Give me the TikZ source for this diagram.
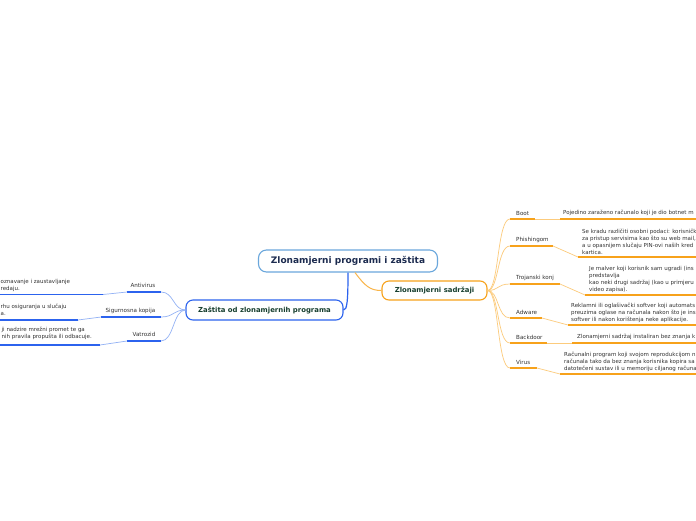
\documentclass[tikz,border=0pt]{standalone}
\usepackage{fontspec}
\setmainfont{DejaVu Sans}
\usetikzlibrary{calc}
\definecolor{ob}{HTML}{F7A21B}
\definecolor{ol}{HTML}{FCCB7C}
\definecolor{bb}{HTML}{2C63EE}
\definecolor{bl}{HTML}{93B2F5}
\definecolor{rootb}{HTML}{6AA7DC}
\definecolor{navy}{HTML}{1C2B4F}
\definecolor{dg}{HTML}{163E2E}
\definecolor{tx}{HTML}{333333}
\tikzset{
  mainbox/.style={rounded corners=7pt, line width=1.1pt, fill=white, font=\bfseries\fontsize{6.9}{8}\selectfont, text=dg, inner sep=0pt},
  lbl/.style={inner sep=0pt, font=\fontsize{5.6}{7}\selectfont, text=tx},
  txt/.style={inner sep=0pt, font=\fontsize{5.5}{7}\selectfont, text=tx, align=left},
  othick/.style={draw=ob, line width=1.7pt},
  othin/.style={draw=ol, line width=0.7pt},
  bthick/.style={draw=bb, line width=1.7pt},
  bthin/.style={draw=bl, line width=0.7pt},
}
\begin{document}
\begin{tikzpicture}[x=1pt,y=-1pt]
\useasboundingbox[fill=white] (0,0) rectangle (696,520);

% central node
\node[draw=rootb, rounded corners=8pt, line width=1.1pt, fill=white, minimum width=179pt, minimum height=22pt, inner sep=0pt,
      font=\bfseries\fontsize{9}{10}\selectfont, text=navy] (root) at (348,261) {Zlonamjerni programi i zaštita};
\node[mainbox, draw=ob, minimum width=105pt, minimum height=19pt] (sad) at (434.5,290.5) {Zlonamjerni sadržaji};
\node[mainbox, draw=bb, minimum width=157pt, minimum height=20pt] (zas) at (264.5,310) {Zaštita od zlonamjernih programa};

\draw[draw=ob!80, line width=1pt] ($(root.south)+(7,0)$) .. controls (365,286) and (370,290.5) .. (sad.west);
\draw[draw=bb, line width=1.2pt] (root.south) .. controls (348,302) and (347,310) .. (zas.east);

% ---------- right side ----------
% Boot
\coordinate (bootA) at (510,219); \coordinate (bootB) at (535,219);
\coordinate (bootC) at (560,219); \coordinate (bootD) at (696,219);
\node[lbl, anchor=west] (boot) at (516,213) {Boot};
\node[txt, anchor=west] (bootT) at (563,213) {Pojedino zaraženo računalo koji je dio botnet m};
% Phishing
\coordinate (phA) at (510,246); \coordinate (phB) at (553,246);
\coordinate (phC) at (578,257); \coordinate (phD) at (696,257);
\node[lbl, anchor=west] (ph) at (516,240) {Phishingom};
\node[txt, anchor=west] (phT) at (582,241.5) {Se kradu različiti osobni podaci: korisničk\\za pristup servisima kao što su web mail,\\a u opasnijem slučaju PIN-ovi naših kred\\kartica.};
% Trojan
\coordinate (trA) at (510,284); \coordinate (trB) at (560,284);
\coordinate (trC) at (585,295); \coordinate (trD) at (696,295);
\node[lbl, anchor=west] (tr) at (516,278) {Trojanski konj};
\node[txt, anchor=west] (trT) at (589,279) {Je malver koji korisnik sam ugradi (ins\\predstavlja\\kao neki drugi sadržaj (kao u primjeru\\video zapisa).};
% Adware
\coordinate (adA) at (510,318); \coordinate (adB) at (542,318);
\coordinate (adC) at (568,325); \coordinate (adD) at (696,325);
\node[lbl, anchor=west] (ad) at (516,312) {Adware};
\node[txt, anchor=west] (adT) at (571,313) {Reklamni ili oglašivački softver koji automats\\preuzima oglase na računala nakon što je ins\\softver ili nakon korištenja neke aplikacije.};
% Backdoor
\coordinate (bdA) at (510,343); \coordinate (bdB) at (547,343);
\coordinate (bdC) at (572,343); \coordinate (bdD) at (696,343);
\node[lbl, anchor=west] (bd) at (516,337) {Backdoor};
\node[txt, anchor=west] (bdT) at (577,337) {Zlonamjerni sadržaj instaliran bez znanja k};
% Virus
\coordinate (viA) at (510,368); \coordinate (viB) at (537,368);
\coordinate (viC) at (560,374); \coordinate (viD) at (696,374);
\node[lbl, anchor=west] (vi) at (516,362) {Virus};
\node[txt, anchor=west] (viT) at (564,362) {Računalni program koji svojom reprodukcijom n\\računala tako da bez znanja korisnika kopira sa\\datotečeni sustav ili u memoriju ciljanog računa};

\foreach \n/\y in {bootA/219, phA/246, trA/284, adA/318, bdA/343, viA/368}{
  \draw[othin] (sad.east) .. controls (499,290.5) and (497,\y) .. (\n);
}
\foreach \a/\b/\c/\d in {bootA/bootB/bootC/bootD, phA/phB/phC/phD, trA/trB/trC/trD, adA/adB/adC/adD, bdA/bdB/bdC/bdD, viA/viB/viC/viD}{
  \draw[othick] (\a) -- (\b);
  \draw[othin] (\b) .. controls ($(\b)!0.5!(\c)$ |- \b) and ($(\b)!0.5!(\c)$ |- \c) .. (\c);
  \draw[othick] (\c) -- (\d);
}

% ---------- left side ----------
% Antivirus
\coordinate (avA) at (161,292); \coordinate (avB) at (127,292);
\coordinate (avC) at (103,294.5); \coordinate (avD) at (0,294.5);
\node[lbl] (av) at (143,285.5) {Antivirus};
\node[txt, anchor=west] (avT) at (0.5,285) {oznavanje i zaustavljanje\\redaju.};
% Sigurnosna kopija
\coordinate (skA) at (161,317); \coordinate (skB) at (101,317);
\coordinate (skC) at (78,320); \coordinate (skD) at (0,320);
\node[lbl] (sk) at (130.5,311) {Sigurnosna kopija};
\node[txt, anchor=west] (skT) at (0.5,309.5) {rhu osiguranja u slučaju\\a.};
% Vatrozid
\coordinate (vzA) at (161,341); \coordinate (vzB) at (127,341);
\coordinate (vzC) at (100,345); \coordinate (vzD) at (0,345);
\node[lbl] (vz) at (144,334.5) {Vatrozid};
\node[txt, anchor=west] (vzT) at (1.5,333.5) {ji nadzire mrežni promet te ga\\nih pravila propušta ili odbacuje.};

\foreach \n/\y in {avA/292, skA/317, vzA/341}{
  \draw[bthin] (zas.west) .. controls (173,310) and (174,\y) .. (\n);
}
\foreach \a/\b/\c/\d in {avA/avB/avC/avD, skA/skB/skC/skD, vzA/vzB/vzC/vzD}{
  \draw[bthick] (\a) -- (\b);
  \draw[bthin] (\b) .. controls ($(\b)!0.5!(\c)$ |- \b) and ($(\b)!0.5!(\c)$ |- \c) .. (\c);
  \draw[bthick] (\c) -- (\d);
}
\end{tikzpicture}
\end{document}
